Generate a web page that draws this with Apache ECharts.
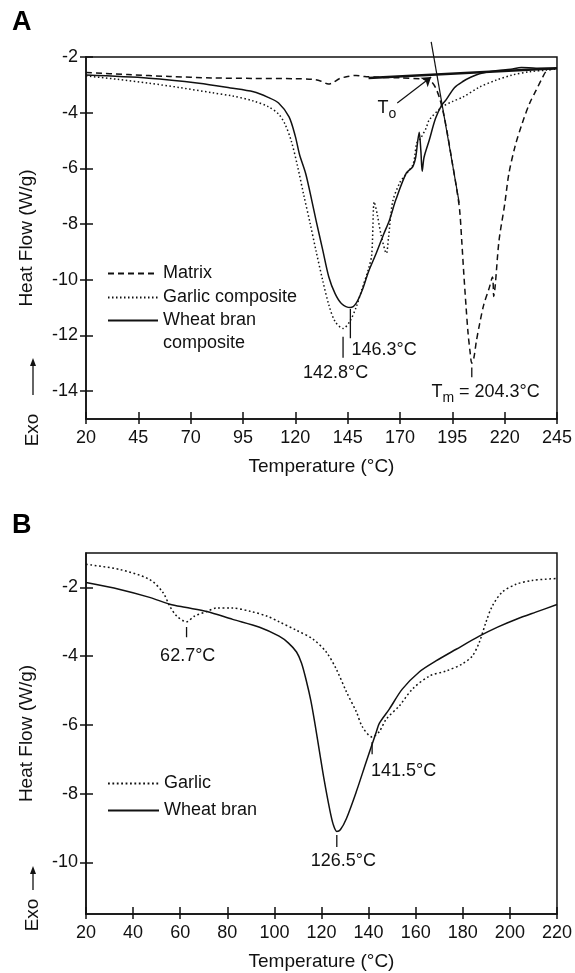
<!DOCTYPE html>
<html>
<head>
<meta charset="utf-8">
<title>DSC thermograms</title>
<script src="https://cdn.jsdelivr.net/npm/echarts@6/dist/echarts.min.js"></script>
<style>
html, body { margin: 0; padding: 0; background: #fff; }
#chart { width: 575px; height: 973px; }
</style>
</head>
<body>
<div id="chart"></div>
<script>
// ---- panel A : matrix and composites ----
const tempTicksA = [20, 45, 70, 95, 120, 145, 170, 195, 220, 245];
const heatTicksA = [-14, -12, -10, -8, -6, -4, -2];

const matrixA = [
  [20, -2.56], [40, -2.63], [60, -2.7], [80, -2.75], [100, -2.77], [120, -2.78], [128, -2.8],
  [132, -2.86], [135.8, -2.97], [138, -2.92], [141, -2.78], [145, -2.7], [149, -2.66], [153, -2.7],
  [160, -2.73], [170, -2.75], [180, -2.78], [183, -2.8], [185, -2.88], [187, -3.1], [189, -3.5],
  [191, -4.1], [193, -4.9], [195, -5.8], [197, -6.7], [198.5, -7.5], [199.5, -8.6], [200.5, -9.8],
  [201.5, -10.9], [202.5, -11.9], [203.5, -12.6], [204.3, -13.0], [205.3, -12.8], [206.5, -12.2],
  [208, -11.6], [210, -10.9], [212.6, -10.3], [214.2, -9.9], [214.8, -10.6], [215.5, -10.2],
  [217.3, -8.6], [220, -7.3], [222, -6.2], [225, -5.2], [228.3, -4.4], [232, -3.65], [235, -3.2],
  [238, -2.75], [240, -2.5], [243, -2.42], [245, -2.4]
];
const garlicA = [
  [20, -2.68], [35, -2.8], [50, -2.94], [65, -3.1], [80, -3.28], [90, -3.4], [100, -3.58],
  [107, -3.78], [112, -4.05], [115, -4.4], [118, -5.0], [121, -5.9], [124, -6.95], [127, -7.95],
  [130, -9.0], [133, -10.0], [136, -10.9], [139, -11.5], [142.8, -11.75], [146, -11.5],
  [149, -11.0], [152, -10.3], [155, -9.6], [156.5, -9.1], [157.7, -7.2], [159, -7.6], [161, -8.4],
  [163.5, -9.05], [164.5, -8.5], [166.5, -7.2], [170, -6.5], [173, -6.2], [176, -5.9], [177, -5.6],
  [178, -5.1], [180, -4.9], [182.5, -4.55], [184, -4.26], [190, -3.8], [195, -3.6], [200, -3.44],
  [208, -3.08], [216, -2.83], [223.5, -2.65], [232, -2.53], [240, -2.47], [245, -2.43]
];
const wheatA = [
  [20, -2.65], [50, -2.76], [74, -2.94], [89, -3.11], [100, -3.25], [107, -3.45], [112, -3.65],
  [117, -4.15], [120, -4.85], [122, -5.5], [125, -6.2], [128, -7.2], [130, -7.9], [133, -8.9],
  [136, -9.9], [139, -10.5], [142, -10.85], [146.3, -11.0], [149, -10.85], [152, -10.37],
  [155, -9.7], [158.7, -9.04], [162, -8.4], [165, -7.85], [168, -7.13], [173, -6.17], [176, -5.95],
  [177.5, -5.6], [178.5, -5.0], [179.2, -4.7], [180, -5.4], [180.6, -6.1], [181.5, -5.6],
  [184, -4.98], [187, -4.2], [190, -3.72], [192, -3.54], [196, -3.1], [200, -2.88], [204, -2.72],
  [208, -2.6], [215, -2.5], [223, -2.44], [228, -2.38], [235, -2.4], [245, -2.4]
];
// onset construction lines
const baselineA = [[155, -2.75], [245, -2.4]];
const tangentA = [[184.9, -1.46], [198.3, -7.24]];
const onsetArrowA = [[168.7, -3.65], [184.9, -2.72]];
const peakTicksA = [
  [[146.3, -11.05], [146.3, -12.1]],
  [[142.8, -12.05], [142.8, -12.8]],
  [[204.3, -13.15], [204.3, -13.5]]
];
const peakLabelsA = [
  [146.8, -12.52, '146.3°C'],
  [139.2, -13.35, '142.8°C'],
  [210.9, -14.03, '{t|T}{s|m}{t| = 204.3°C}'],
  [159.2, -3.83, '{t|T}{s|o}']
];
const labelAlignA = ['left', 'center', 'center', 'left'];

// ---- panel B : fillers ----
const tempTicksB = [20, 40, 60, 80, 100, 120, 140, 160, 180, 200, 220];
const heatTicksB = [-10, -8, -6, -4, -2];

const garlicB = [
  [20, -1.33], [34.4, -1.48], [47, -1.77], [52.6, -2.14], [55.6, -2.55], [58.6, -2.84],
  [62.7, -3.0], [66, -2.84], [71.3, -2.7], [75.5, -2.6], [82, -2.6], [90, -2.7], [97, -2.84],
  [102, -3.0], [109.4, -3.25], [116.3, -3.5], [122, -3.88], [126.3, -4.38], [130.6, -5.04],
  [134.8, -5.62], [137.4, -6.06], [141.5, -6.35], [144.5, -6.2], [147.5, -5.83], [153, -5.45],
  [158.6, -4.96], [165.8, -4.58], [173, -4.43], [179.7, -4.23], [184, -4.0], [187, -3.6],
  [189.9, -3.0], [192.5, -2.55], [196.7, -2.14], [202.6, -1.91], [209.4, -1.8], [220, -1.74]
];
const wheatB = [
  [20, -1.86], [34.4, -2.06], [47, -2.29], [55.6, -2.49], [62, -2.58], [71.3, -2.7],
  [82.3, -2.93], [93.7, -3.16], [102, -3.42], [106, -3.62], [109.4, -3.88], [111.5, -4.2],
  [113.5, -4.7], [115.5, -5.3], [117.3, -6.0], [119.2, -6.8], [121, -7.55], [123.4, -8.43], [125, -8.9],
  [126.5, -9.1], [128, -9.05], [130.6, -8.72], [134.8, -7.94], [139, -7.07], [143.3, -6.2],
  [144.6, -5.95], [148.8, -5.54], [154.3, -4.96], [161.5, -4.46], [168.6, -4.14], [177.2, -3.8],
  [187, -3.42], [195, -3.15], [203, -2.92], [211, -2.72], [220, -2.5]
];
const peakTicksB = [
  [[62.7, -3.15], [62.7, -3.45]],
  [[141.5, -6.5], [141.5, -6.85]],
  [[126.5, -9.2], [126.5, -9.55]]
];
const peakLabelsB = [
  [63.2, -4.0, '62.7°C'],
  [141.0, -7.33, '141.5°C'],
  [129.3, -9.97, '126.5°C']
];
const labelAlignB = ['center', 'left', 'center'];

const ink = '#111';
const font = 'Liberation Sans, Arial, Helvetica, sans-serif';

const chart = echarts.init(document.getElementById('chart'), null, { renderer: 'canvas' });

// two axes per side: one with outside ticks + labels, one with inside ticks only
function xAxes(grid, min, max, ticks) {
  return [
    {
      gridIndex: grid, type: 'value', min: min, max: max, position: 'bottom',
      axisLine: { lineStyle: { color: ink, width: 1.5 } },
      axisTick: { customValues: ticks, length: 5, lineStyle: { color: ink, width: 1.5 } },
      axisLabel: { customValues: ticks, fontSize: 18, color: ink, fontFamily: font, margin: 10 },
      splitLine: { show: false },
      name: 'Temperature (°C)', nameLocation: 'middle', nameGap: 38,
      nameTextStyle: { fontSize: 19, color: ink, fontFamily: font }
    },
    {
      gridIndex: grid, type: 'value', min: min, max: max, position: 'bottom',
      axisLine: { show: false },
      axisTick: { customValues: ticks, inside: true, length: 7, lineStyle: { color: ink, width: 1.5 } },
      axisLabel: { show: false },
      splitLine: { show: false }
    }
  ];
}
function yAxes(grid, min, max, ticks) {
  return [
    {
      gridIndex: grid, type: 'value', min: min, max: max, position: 'left',
      axisLine: { show: true, lineStyle: { color: ink, width: 1.5 } },
      axisTick: { show: true, customValues: ticks, length: 6, lineStyle: { color: ink, width: 1.5 } },
      axisLabel: { customValues: ticks, fontSize: 18, color: ink, fontFamily: font, margin: 8 },
      splitLine: { show: false },
      name: 'Heat Flow (W/g)', nameLocation: 'middle', nameRotate: 90, nameGap: 50,
      nameTextStyle: { fontSize: 19, color: ink, fontFamily: font }
    },
    {
      gridIndex: grid, type: 'value', min: min, max: max, position: 'left',
      axisLine: { show: false },
      axisTick: { show: true, customValues: ticks, inside: true, length: 7, lineStyle: { color: ink, width: 1.5 } },
      axisLabel: { show: false },
      splitLine: { show: false }
    }
  ];
}

function curve(name, data, xi, yi, type, width) {
  return {
    name: name, type: 'line', xAxisIndex: xi, yAxisIndex: yi, data: data,
    symbol: 'none', smooth: 0.3, silent: true,
    itemStyle: { color: ink },
    lineStyle: { color: ink, width: width || 1.5, type: type }
  };
}
function segment(data, xi, yi, width, clip) {
  return {
    type: 'line', xAxisIndex: xi, yAxisIndex: yi, data: data, symbol: 'none',
    silent: true, clip: clip !== false,
    lineStyle: { color: ink, width: width, type: 'solid' }
  };
}
function labels(list, aligns, xi, yi) {
  return {
    type: 'scatter', xAxisIndex: xi, yAxisIndex: yi, symbolSize: 0, silent: true,
    itemStyle: { color: ink, opacity: 1 },
    data: list.map((d, i) => ({
      value: [d[0], d[1]],
      label: {
        show: true, position: 'inside', formatter: d[2], align: aligns[i], verticalAlign: 'middle',
        fontSize: 18, color: ink, fontFamily: font, textBorderWidth: 0,
        rich: {
          t: { fontSize: 18, color: ink, fontFamily: font },
          s: { fontSize: 14, color: ink, fontFamily: font, lineHeight: 27, verticalAlign: 'bottom' }
        }
      }
    }))
  };
}

const series = [
  curve('Matrix', matrixA, 0, 0, [6, 4]),
  curve('Garlic composite', garlicA, 0, 0, [1.5, 2.5]),
  curve('Wheat bran composite', wheatA, 0, 0, 'solid'),
  segment(baselineA, 0, 0, 2.5),
  segment(tangentA, 0, 0, 1.2, false),
  {
    type: 'line', xAxisIndex: 0, yAxisIndex: 0, data: [], silent: true,
    markLine: {
      silent: true, symbol: ['none', 'arrow'], symbolSize: 9, animation: false,
      label: { show: false },
      lineStyle: { color: ink, width: 1.2, type: 'solid' },
      data: [[{ coord: onsetArrowA[0] }, { coord: onsetArrowA[1] }]]
    }
  },
  labels(peakLabelsA, labelAlignA, 0, 0),
  curve('Garlic', garlicB, 2, 2, [1.8, 2.6]),
  curve('Wheat bran', wheatB, 2, 2, 'solid'),
  labels(peakLabelsB, labelAlignB, 2, 2)
];
peakTicksA.forEach(t => series.push(segment(t, 0, 0, 1.3)));
peakTicksB.forEach(t => series.push(segment(t, 2, 2, 1.3)));

const legendBase = {
  orient: 'vertical', itemWidth: 50, itemHeight: 14, itemGap: 1, selectedMode: false,
  itemStyle: { opacity: 0 },
  textStyle: { fontSize: 18, color: ink, fontFamily: font, lineHeight: 23 }
};

function exo(cx, cy, y1, y2) {
  return [
    { type: 'text', x: cx, y: cy, rotation: Math.PI / 2,
      style: { text: 'Exo', font: '19px ' + font, fill: ink, align: 'center', verticalAlign: 'middle' } },
    { type: 'line', shape: { x1: cx, y1: y1, x2: cx, y2: y2 + 5 }, style: { stroke: ink, lineWidth: 1.3 } },
    { type: 'polygon', shape: { points: [[cx, y2], [cx - 3, y2 + 8], [cx + 3, y2 + 8]] }, style: { fill: ink } }
  ];
}

chart.setOption({
  animation: false,
  backgroundColor: '#fff',
  title: [
    { text: 'A', left: 12, top: 9, padding: 0, textStyle: { fontSize: 27, fontWeight: 'bold', color: '#000', fontFamily: font } },
    { text: 'B', left: 12, top: 512, padding: 0, textStyle: { fontSize: 27, fontWeight: 'bold', color: '#000', fontFamily: font } }
  ],
  grid: [
    { left: 86, top: 57, width: 472, height: 362, show: true, borderColor: ink, borderWidth: 1.5, backgroundColor: 'transparent' },
    { left: 86, top: 553, width: 472, height: 361, show: true, borderColor: ink, borderWidth: 1.5, backgroundColor: 'transparent' }
  ],
  xAxis: xAxes(0, 20, 245, tempTicksA).concat(xAxes(1, 20, 220, tempTicksB)),
  yAxis: yAxes(0, -15, -2, heatTicksA).concat(yAxes(1, -11.5, -1, heatTicksB)),
  legend: [
    Object.assign({}, legendBase, { left: 102, top: 257, data: ['Matrix', 'Garlic composite'] }),
    Object.assign({}, legendBase, {
      left: 102, top: 281, data: ['Wheat bran composite'],
      // blank first line keeps the icon level with "Wheat bran"
      formatter: () => ' \nWheat bran\ncomposite'
    }),
    Object.assign({}, legendBase, { left: 102, top: 767, itemWidth: 51, itemGap: 4, data: ['Garlic', 'Wheat bran'] })
  ],
  graphic: exo(33, 430, 395, 358).concat(exo(33, 915, 890, 866)),
  series: series
});
</script>
</body>
</html>
